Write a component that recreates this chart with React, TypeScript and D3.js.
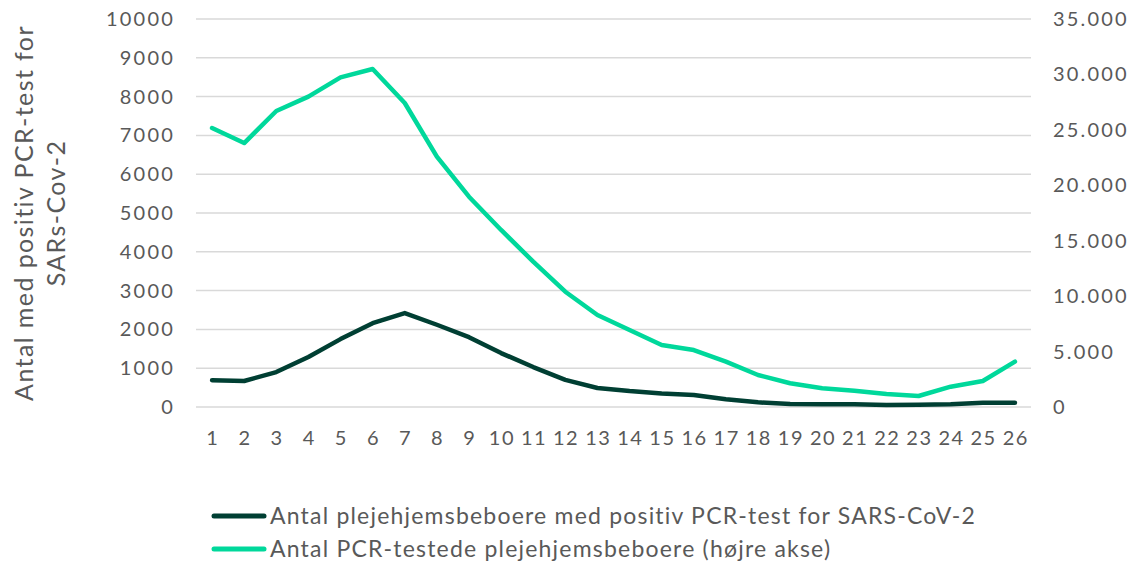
import React from "react";
import * as d3 from "d3";

const weeks: string[] = Array.from({ length: 26 }, (_, i) => String(i + 1));
const positives: number[] = [690, 670, 900, 1290, 1750, 2160, 2420, 2120, 1800, 1390, 1030, 700, 490, 410, 350, 310, 200, 120, 80, 70, 70, 50, 60, 70, 110, 110];
const tested: number[] = [25170, 23810, 26700, 28000, 29740, 30490, 27420, 22580, 18970, 15970, 13110, 10400, 8300, 6950, 5590, 5140, 4090, 2890, 2140, 1690, 1470, 1170, 990, 1830, 2350, 4090];
const leftTicks: number[] = [0, 1000, 2000, 3000, 4000, 5000, 6000, 7000, 8000, 9000, 10000];
const rightTicks: number[] = [0, 5000, 10000, 15000, 20000, 25000, 30000, 35000];
const seriesNames: string[] = [
  "Antal plejehjemsbeboere med positiv PCR-test for SARS-CoV-2",
  "Antal PCR-testede plejehjemsbeboere (højre akse)",
];
const yTitle: string[] = ["Antal med positiv PCR-test for", "SARs-Cov-2"];

const W = 1132, H = 563;
const m = { left: 196, right: 1031, top: 19, bottom: 407 };
const dark = "#003F33";
const light = "#00D89B";
const textCol = "#595959";
const font = "Lato, 'Open Sans', sans-serif";

export default function App() {
  const x = d3.scaleBand<string>().domain(weeks).range([m.left, m.right]);
  const yL = d3.scaleLinear().domain([0, 10000]).range([m.bottom, m.top]);
  const yR = d3.scaleLinear().domain([0, 35000]).range([m.bottom, m.top]);
  const cx = (d: string) => (x(d) as number) + x.bandwidth() / 2;
  const lineL = d3.line<number>().x((_, i) => cx(weeks[i])).y((v) => yL(v));
  const lineR = d3.line<number>().x((_, i) => cx(weeks[i])).y((v) => yR(v));
  const fmtR = (v: number) => d3.format(",")(v).replace(/,/g, ".");

  return (
    <div style={{ position: "absolute", left: 0, top: 0 }}>
      <svg width={W} height={H} style={{ display: "block", fontFamily: font }}>
        <rect width={W} height={H} fill="#fff" />
        {leftTicks.map((t) => (
          <line key={t} x1={m.left} x2={m.right} y1={yL(t)} y2={yL(t)} stroke="#d9d9d9" strokeWidth={1.5} />
        ))}
        {leftTicks.map((t) => (
          <text key={t} x={175} y={yL(t)} dy="0.35em" textAnchor="end" fontSize={20} fill={textCol} letterSpacing={2.2}>
            {t}
          </text>
        ))}
        {rightTicks.map((t) => (
          <text key={t} x={1053} y={yR(t)} dy="0.35em" textAnchor="start" fontSize={20} fill={textCol} letterSpacing={2.2}>
            {fmtR(t)}
          </text>
        ))}
        {weeks.map((w) => (
          <text key={w} x={cx(w) + 0.8} y={438} dy="0.35em" textAnchor="middle" fontSize={20} fill={textCol} letterSpacing={1.5}>
            {w}
          </text>
        ))}
        <g transform={`translate(24,${(m.top + m.bottom) / 2}) rotate(-90)`}>
          <text x={0} y={0} dy="0.35em" textAnchor="middle" fontSize={25} fill={textCol} letterSpacing={1.4}>{yTitle[0]}</text>
          <text x={0} y={32} dy="0.35em" textAnchor="middle" fontSize={25} fill={textCol} letterSpacing={1.4}>{yTitle[1]}</text>
        </g>
        <path d={lineR(tested) as string} fill="none" stroke={light} strokeWidth={4.5} strokeLinejoin="round" strokeLinecap="round" />
        <path d={lineL(positives) as string} fill="none" stroke={dark} strokeWidth={4.5} strokeLinejoin="round" strokeLinecap="round" />
        {seriesNames.map((n, i) => (
          <g key={n} transform={`translate(0,${516 + i * 33})`}>
            <line x1={214} x2={264} y1={0} y2={0} stroke={i === 0 ? dark : light} strokeWidth={5} strokeLinecap="round" />
            <text x={270} y={0} dy="0.35em" fontSize={23} fill={textCol} letterSpacing={1.2}>{n}</text>
          </g>
        ))}
      </svg>
    </div>
  );
}
